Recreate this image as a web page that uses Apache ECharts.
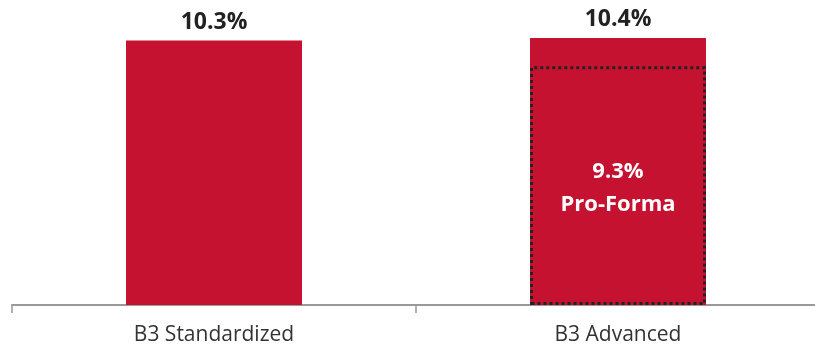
<!DOCTYPE html>
<html>
<head>
<meta charset="utf-8">
<script src="https://cdn.jsdelivr.net/npm/echarts@6/dist/echarts.min.js"></script>
<style>
  html, body { margin: 0; padding: 0; background: #fff; }
  #chart { width: 815px; height: 345px; }
</style>
</head>
<body>
<div id="chart"></div>
<script>
// Capital ratio by approach
const categories = ['B3 Standardized', 'B3 Advanced'];
const ratioValues = [10.3, 10.4];
// Pro-forma overlay shown only on the advanced approach
const proFormaValues = ['-', 9.3];
const proFormaCaption = 'Pro-Forma';

const RED = '#C41230';
const FONT = '"Open Sans", sans-serif';

const chart = echarts.init(document.getElementById('chart'), null, { renderer: 'canvas' });
chart.setOption({
  animation: false,
  grid: { left: 12, width: 808, top: 22.6, height: 282.4, outerBoundsMode: 'none', containLabel: false },
  xAxis: {
    type: 'category',
    data: categories,
    boundaryGap: true,
    axisLine: { show: true, lineStyle: { color: '#999', width: 2 } },
    axisTick: { show: true, length: 8, lineStyle: { color: '#999', width: 1.5 } },
    axisLabel: { color: '#333', fontSize: 21, fontFamily: FONT, margin: 20 }
  },
  yAxis: {
    type: 'value',
    min: 0,
    max: 11,
    show: false,
    splitLine: { show: false }
  },
  series: [
    {
      type: 'bar',
      data: ratioValues,
      barWidth: 176,
      itemStyle: { color: RED },
      label: {
        show: true,
        position: 'top',
        distance: 7,
        formatter: p => p.value.toFixed(1) + '%',
        color: '#222',
        fontSize: 23,
        fontWeight: 'bold',
        fontFamily: FONT
      }
    },
    {
      type: 'bar',
      data: proFormaValues,
      barWidth: 176,
      barGap: '-100%',
      z: 3,
      itemStyle: {
        color: 'rgba(0,0,0,0)',
        borderColor: '#222',
        borderWidth: 3,
        borderType: [3, 3]
      },
      label: {
        show: true,
        position: 'inside',
        offset: [0, 3],
        formatter: p => p.value.toFixed(1) + '%\n' + proFormaCaption,
        color: '#fff',
        fontSize: 22,
        fontWeight: 'bold',
        lineHeight: 33,
        fontFamily: FONT
      }
    }
  ]
});
</script>
</body>
</html>
